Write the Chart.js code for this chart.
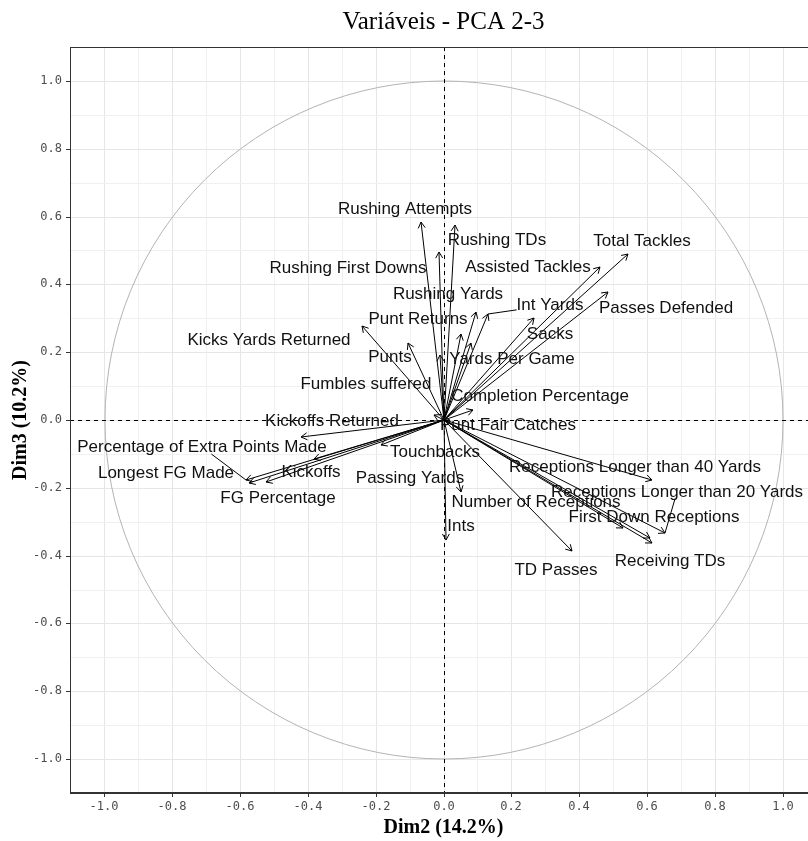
<!DOCTYPE html>
<html lang="pt">
<head>
<meta charset="UTF-8">
<title>Variáveis - PCA 2-3</title>
<script src="https://cdn.jsdelivr.net/npm/chart.js"></script>
<style>
  html, body { margin: 0; padding: 0; background: #fff; overflow: hidden; }
  #wrap { width: 830px; height: 841px; }
</style>
</head>
<body>
<div id="wrap"><canvas id="chart" width="830" height="841"></canvas></div>
<script>
// variable coordinates on Dim2 / Dim3 (arrow tips)
const variables = [
  'Rushing Attempts', 'Rushing TDs', 'Rushing First Downs', 'Kicks Yards Returned', 'Punts',
  'Total Tackles', 'Assisted Tackles', 'Passes Defended', 'Sacks', 'Int Yards',
  'Rushing Yards', 'Punt Returns', 'Yards Per Game', 'Fumbles suffered', 'Completion Percentage',
  'Punt Fair Catches', 'Kickoffs Returned', 'Percentage of Extra Points Made', 'Longest FG Made', 'FG Percentage',
  'Kickoffs', 'Touchbacks', 'Passing Yards', 'Receptions Longer than 40 Yards', 'Receptions Longer than 20 Yards',
  'First Down Receptions', 'Number of Receptions', 'Receiving TDs', 'TD Passes', 'Ints'
];
const dim2 = [
  -0.066, 0.035, -0.014, -0.240, -0.105,
  0.544, 0.460, 0.484, 0.268, 0.131,
  0.097, 0.052, 0.082, -0.009, 0.086,
  -0.027, -0.420, -0.582, -0.572, -0.523,
  -0.381, -0.184, 0.052, 0.613, 0.652,
  0.529, 0.608, 0.613, 0.377, 0.008
];
const dim3 = [
  0.583, 0.576, 0.495, 0.276, 0.226,
  0.490, 0.451, 0.377, 0.301, 0.314,
  0.319, 0.255, 0.226, 0.191, 0.029,
  0.015, -0.049, -0.177, -0.185, -0.182,
  -0.116, -0.074, -0.211, -0.177, -0.333,
  -0.319, -0.348, -0.363, -0.387, -0.353
];
// where the (repelled) labels sit, in the same units
const labelDim2 = [
  -0.112, 0.158, -0.280, -0.515, -0.159,
  0.584, 0.248, 0.656, 0.313, 0.314,
  0.013, -0.076, 0.201, -0.228, 0.285,
  0.189, -0.329, -0.710, -0.818, -0.488,
  -0.390, -0.024, -0.100, 0.565, 0.688,
  0.620, 0.273, 0.667, 0.330, 0.052
];
const labelDim3 = [
  0.623, 0.531, 0.449, 0.235, 0.186,
  0.529, 0.451, 0.331, 0.255, 0.340,
  0.373, 0.299, 0.181, 0.106, 0.071,
  -0.015, -0.002, -0.079, -0.155, -0.229,
  -0.152, -0.094, -0.172, -0.139, -0.213,
  -0.287, -0.241, -0.417, -0.441, -0.314
];
const withSegment = ['Int Yards', 'Percentage of Extra Points Made', 'Receptions Longer than 20 Yards'];

const isMajor = v => Math.round(Math.abs(v) * 10) % 2 === 0;
const fmt = v => {
  let r = Math.round(v * 10) / 10;
  if (Math.abs(r) < 1e-9) r = 0;
  return isMajor(v) ? r.toFixed(1) : '';
};

const datasets = variables.map((name, i) => ({
  label: name,
  data: [{ x: 0, y: 0 }, { x: dim2[i], y: dim3[i] }],
  showLine: true,
  borderColor: '#000',
  borderWidth: 1,
  pointRadius: 0,
  fill: false
}));

const decor = {
  id: 'decor',
  beforeDatasetsDraw(chart) {
    const { ctx, chartArea: a, scales: { x, y } } = chart;
    ctx.save();
    // unit circle
    ctx.strokeStyle = '#b3b3b3';
    ctx.lineWidth = 1;
    ctx.beginPath();
    ctx.ellipse(x.getPixelForValue(0), y.getPixelForValue(0),
      x.getPixelForValue(1) - x.getPixelForValue(0),
      y.getPixelForValue(0) - y.getPixelForValue(1), 0, 0, Math.PI * 2);
    ctx.stroke();
    // dashed zero lines
    ctx.strokeStyle = '#000';
    ctx.setLineDash([4, 4]);
    const x0 = Math.round(x.getPixelForValue(0)) + 0.5;
    const y0 = Math.round(y.getPixelForValue(0)) + 0.5;
    ctx.beginPath();
    ctx.moveTo(x0, a.top); ctx.lineTo(x0, a.bottom);
    ctx.moveTo(a.left, y0); ctx.lineTo(a.right, y0);
    ctx.stroke();
    ctx.restore();
  },
  afterDatasetsDraw(chart) {
    const { ctx, scales: { x, y } } = chart;
    ctx.save();
    ctx.strokeStyle = '#000';
    ctx.lineWidth = 1;
    const ox = x.getPixelForValue(0), oy = y.getPixelForValue(0);
    variables.forEach((name, i) => {
      const tx = x.getPixelForValue(dim2[i]), ty = y.getPixelForValue(dim3[i]);
      const ang = Math.atan2(ty - oy, tx - ox), len = 7;
      ctx.beginPath();
      ctx.moveTo(tx - len * Math.cos(ang - Math.PI / 6), ty - len * Math.sin(ang - Math.PI / 6));
      ctx.lineTo(tx, ty);
      ctx.lineTo(tx - len * Math.cos(ang + Math.PI / 6), ty - len * Math.sin(ang + Math.PI / 6));
      ctx.stroke();
    });
    ctx.font = '17px "Liberation Sans", Arial, sans-serif';
    ctx.fillStyle = '#111';
    ctx.textAlign = 'center';
    ctx.textBaseline = 'middle';
    variables.forEach((name, i) => {
      const lx = x.getPixelForValue(labelDim2[i]), ly = y.getPixelForValue(labelDim3[i]);
      if (withSegment.includes(name)) {
        // segment from the label box edge (towards the tip) to the tip
        const w = ctx.measureText(name).width / 2, h = 7;
        const tx = x.getPixelForValue(dim2[i]), ty = y.getPixelForValue(dim3[i]);
        const dx = tx - lx, dy = ty - ly;
        const t = Math.min(dx ? w / Math.abs(dx) : Infinity, dy ? h / Math.abs(dy) : Infinity);
        ctx.beginPath();
        ctx.moveTo(lx + dx * t, ly + dy * t); ctx.lineTo(tx, ty);
        ctx.stroke();
      }
      ctx.fillText(name, lx, ly);
    });
    ctx.restore();
  },
  afterDraw(chart) {
    const { ctx, chartArea: a } = chart;
    ctx.save();
    ctx.strokeStyle = '#333';
    ctx.lineWidth = 1;
    ctx.strokeRect(a.left + 0.5, a.top + 0.5, a.right - a.left - 1, a.bottom - a.top - 1);
    const cx = (a.left + a.right) / 2;
    ctx.fillStyle = '#000';
    ctx.textAlign = 'center';
    ctx.textBaseline = 'middle';
    ctx.font = '25px "Liberation Serif", "Times New Roman", serif';
    ctx.fillText('Variáveis - PCA 2-3', cx, 22);
    ctx.font = 'bold 20px "Liberation Serif", "Times New Roman", serif';
    ctx.fillText('Dim2 (14.2%)', cx, 828);
    ctx.translate(21, (a.top + a.bottom) / 2);
    ctx.rotate(-Math.PI / 2);
    ctx.fillText('Dim3 (10.2%)', 0, 0);
    ctx.restore();
  }
};

const gridColor = c => (c.tick && isMajor(c.tick.value)) ? '#e6e6e6' : '#f0f0f0';
const tickColor = c => (c.tick && isMajor(c.tick.value)) ? '#333' : 'rgba(0,0,0,0)';
const tickFont = { family: '"DejaVu Sans Mono", monospace', size: 12 };

new Chart(document.getElementById('chart'), {
  type: 'scatter',
  data: { datasets },
  options: {
    responsive: false,
    animation: false,
    layout: { padding: { top: 47, right: 13, left: 0, bottom: 0 } },
    plugins: { legend: { display: false }, tooltip: { enabled: false } },
    scales: {
      x: {
        min: -1.1, max: 1.1,
        alignToPixels: true,
        ticks: { stepSize: 0.1, autoSkip: false, maxRotation: 0, callback: fmt, color: '#4d4d4d', font: tickFont, padding: 3 },
        grid: { color: gridColor, lineWidth: 1, tickLength: 4, tickColor: tickColor },
        border: { color: '#333', width: 1 },
        afterFit: s => { s.height = 48; }
      },
      y: {
        min: -1.1, max: 1.1,
        alignToPixels: true,
        ticks: { stepSize: 0.1, autoSkip: false, callback: fmt, color: '#4d4d4d', font: tickFont, padding: 4 },
        grid: { color: gridColor, lineWidth: 1, tickLength: 4, tickColor: tickColor },
        border: { color: '#333', width: 1 },
        afterFit: s => { s.width = 70; }
      }
    }
  },
  plugins: [decor]
});
</script>
</body>
</html>
